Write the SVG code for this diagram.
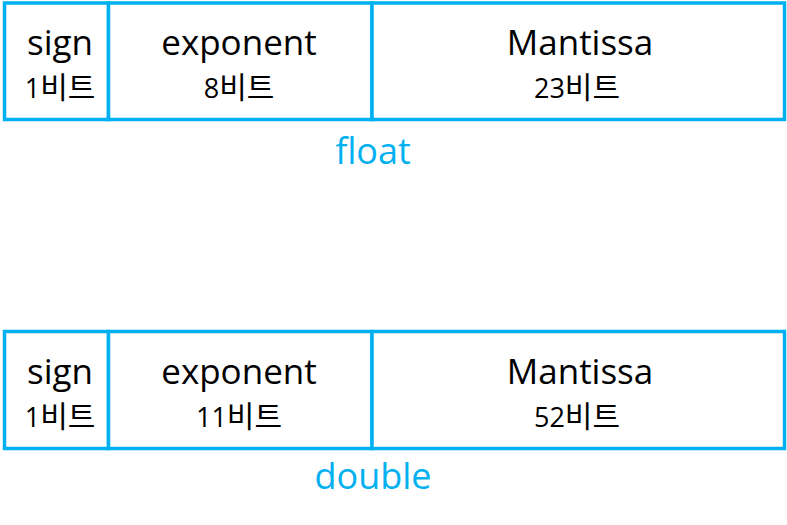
<svg xmlns="http://www.w3.org/2000/svg" width="787" height="525" viewBox="0 0 787 525">
<style>
.box{fill:#fff;stroke:#00B0F0;stroke-width:3.5}
.t{font-family:"Open Sans","Noto Sans CJK KR",sans-serif;font-size:35px;fill:#000;text-anchor:middle}
.s{font-family:"Open Sans","Noto Sans CJK KR",sans-serif;font-size:27px;fill:#000;text-anchor:middle}
.k{font-family:"Noto Sans CJK KR",sans-serif;font-size:30px}
.lbl{font-family:"Open Sans","Noto Sans CJK KR",sans-serif;font-size:36px;fill:#00B0F0;text-anchor:middle}
</style>
<rect width="787" height="525" fill="#fff"/>
<g id="float">
<g id="float-sign"><rect class="box" x="4.5" y="3" width="104" height="116.5"/><text class="t" x="60" y="55">sign</text><text class="s" x="60" y="98">1<tspan class="k">비트</tspan></text></g>
<g id="float-exponent"><rect class="box" x="108.5" y="3" width="263.5" height="116.5"/><text class="t" x="239" y="55">exponent</text><text class="s" x="239" y="98">8<tspan class="k">비트</tspan></text></g>
<g id="float-mantissa"><rect class="box" x="372" y="3" width="412.5" height="116.5"/><text class="t" x="580" y="55">Mantissa</text><text class="s" x="577" y="98">23<tspan class="k">비트</tspan></text></g>
<text class="lbl" x="373" y="164">float</text>
</g>
<g id="double">
<g id="double-sign"><rect class="box" x="4.5" y="331.5" width="104" height="117"/><text class="t" x="60" y="384">sign</text><text class="s" x="60" y="427">1<tspan class="k">비트</tspan></text></g>
<g id="double-exponent"><rect class="box" x="108.5" y="331.5" width="263.5" height="117"/><text class="t" x="239" y="384">exponent</text><text class="s" x="239" y="427">11<tspan class="k">비트</tspan></text></g>
<g id="double-mantissa"><rect class="box" x="372" y="331.5" width="412.5" height="117"/><text class="t" x="580" y="384">Mantissa</text><text class="s" x="577" y="427">52<tspan class="k">비트</tspan></text></g>
<text class="lbl" x="373" y="489">double</text>
</g>
<g id="connectors"></g>
</svg>
